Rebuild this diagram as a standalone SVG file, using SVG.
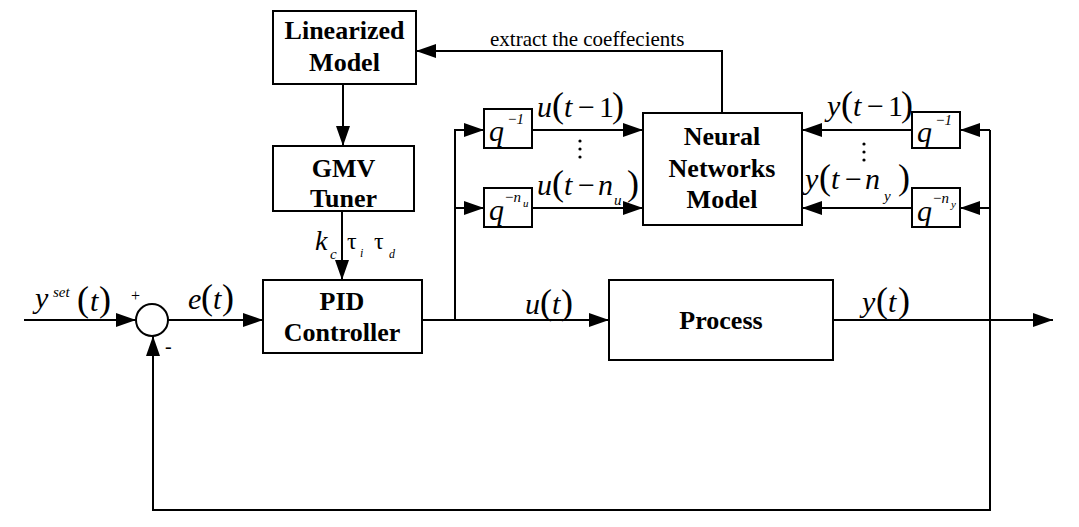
<svg xmlns="http://www.w3.org/2000/svg" width="1079" height="527" viewBox="0 0 1079 527">
<style>
text{font-family:'Liberation Serif','Times New Roman',Times,'DejaVu Serif','Noto Serif',serif}
.box{fill:#fff;stroke:#000;stroke-width:2}
.c{fill:none;stroke:#000;stroke-width:2}
.b{font-weight:bold;font-size:26px;text-anchor:middle;fill:#000}
.m{font-style:italic;font-size:30px;fill:#000}
.r{font-style:normal;font-size:30px}
.p{font-style:normal;font-size:36px}
.s{font-style:italic;font-size:15px}
.ss{font-style:italic;font-size:11px}
.n{font-size:21px;fill:#000}
</style>
<defs>
<marker id="ah" markerWidth="20" markerHeight="14" refX="20" refY="7" orient="auto" markerUnits="userSpaceOnUse">
<path d="M0,0 L20,7 L0,14 z" fill="#000"/>
</marker>
</defs>
<rect width="1079" height="527" fill="#fff"/>
<g id="connectors">
<path class="c" d="M24,320 H136" marker-end="url(#ah)"/>
<path class="c" d="M168,320 H263" marker-end="url(#ah)"/>
<path class="c" d="M422,320 H609" marker-end="url(#ah)"/>
<path class="c" d="M455,320 V130 H484" marker-end="url(#ah)"/>
<path class="c" d="M455,208 H484" marker-end="url(#ah)"/>
<path class="c" d="M532,130 H643" marker-end="url(#ah)"/>
<path class="c" d="M532,208 H643" marker-end="url(#ah)"/>
<path class="c" d="M833,320 H1053" marker-end="url(#ah)"/>
<path class="c" d="M990,130 V510 H153 V336" marker-end="url(#ah)"/>
<path class="c" d="M990,130 H960" marker-end="url(#ah)"/>
<path class="c" d="M990,208 H960" marker-end="url(#ah)"/>
<path class="c" d="M912,130 H802" marker-end="url(#ah)"/>
<path class="c" d="M912,208 H802" marker-end="url(#ah)"/>
<path class="c" d="M722,113 V51 H416" marker-end="url(#ah)"/>
<path class="c" d="M343,84 V146" marker-end="url(#ah)"/>
<path class="c" d="M342,211 V280" marker-end="url(#ah)"/>
<text class="n" x="490" y="46">extract the coeffecients</text>
</g>
<g id="sum">
<circle cx="152" cy="320" r="16" class="box"/>
<text x="131" y="301" style="font-size:16px">+</text>
<text x="165" y="353" style="font-size:20px">-</text>
</g>
<g id="linearized">
<rect class="box" x="273" y="11" width="143" height="73"/>
<text class="b" x="344.5" y="39">Linearized</text>
<text class="b" x="344.5" y="71">Model</text>
</g>
<g id="gmv">
<rect class="box" x="273" y="146" width="141" height="65"/>
<text class="b" x="343.5" y="177">GMV</text>
<text class="b" x="343.5" y="207">Tuner</text>
</g>
<g id="pid">
<rect class="box" x="263" y="280" width="159" height="73"/>
<text class="b" x="342" y="310">PID</text>
<text class="b" x="342" y="341">Controller</text>
</g>
<g id="process">
<rect class="box" x="609" y="280" width="224" height="80"/>
<text class="b" x="721" y="329">Process</text>
</g>
<g id="nn">
<rect class="box" x="643" y="113" width="159" height="112"/>
<text class="b" x="722" y="145">Neural</text>
<text class="b" x="722" y="177">Networks</text>
<text class="b" x="722" y="208">Model</text>
</g>
<g id="qu1">
<rect class="box" x="484" y="109" width="48" height="39"/>
<text class="m" x="489" y="141">q</text>
<text class="s" x="508" y="124"><tspan class="r" style="font-size:15px">−</tspan>1</text>
</g>
<g id="qunu">
<rect class="box" x="484" y="188" width="48" height="39"/>
<text class="m" x="489" y="220">q</text>
<text class="s" x="505" y="202"><tspan class="r" style="font-size:15px">−</tspan>n</text>
<text class="ss" x="523" y="207">u</text>
</g>
<g id="qy1">
<rect class="box" x="912" y="112" width="48" height="36"/>
<text class="m" x="917" y="142">q</text>
<text class="s" x="936" y="125"><tspan class="r" style="font-size:15px">−</tspan>1</text>
</g>
<g id="qyny">
<rect class="box" x="912" y="188" width="48" height="39"/>
<text class="m" x="917" y="221">q</text>
<text class="s" x="933" y="203"><tspan class="r" style="font-size:15px">−</tspan>n</text>
<text class="ss" x="951" y="208">y</text>
</g>
<g id="labels">
<text class="m" x="35" y="308">y</text>
<text class="s" x="53" y="297">set</text>
<text class="m" y="311"><tspan class="p" x="77">(</tspan><tspan x="90">t</tspan><tspan class="p" x="99">)</tspan></text>
<text class="m" y="309"><tspan x="188">e</tspan><tspan class="p" x="201">(</tspan><tspan x="213">t</tspan><tspan class="p" x="222">)</tspan></text>
<text class="m" y="314"><tspan x="525">u</tspan><tspan class="p" x="540">(</tspan><tspan x="552">t</tspan><tspan class="p" x="561">)</tspan></text>
<text class="m" y="312"><tspan x="862">y</tspan><tspan class="p" x="876">(</tspan><tspan x="888">t</tspan><tspan class="p" x="898">)</tspan></text>
<text class="m" y="117"><tspan x="537">u</tspan><tspan class="p" x="552">(</tspan><tspan x="564">t</tspan><tspan class="r" x="578">−</tspan><tspan class="r" x="599">1</tspan><tspan class="p" x="612">)</tspan></text>
<text class="m" y="195"><tspan x="537">u</tspan><tspan class="p" x="552">(</tspan><tspan x="564">t</tspan><tspan class="r" x="578">−</tspan><tspan x="598">n</tspan><tspan class="p" x="627">)</tspan></text>
<text class="s" x="614" y="205">u</text>
<text class="m" y="116"><tspan x="827">y</tspan><tspan class="p" x="841">(</tspan><tspan x="853">t</tspan><tspan class="r" x="867">−</tspan><tspan class="r" x="888">1</tspan><tspan class="p" x="901">)</tspan></text>
<text class="m" y="189"><tspan x="805">y</tspan><tspan class="p" x="819">(</tspan><tspan x="831">t</tspan><tspan class="r" x="845">−</tspan><tspan x="865">n</tspan><tspan class="p" x="898">)</tspan></text>
<text class="s" x="884" y="201">y</text>
<text class="m" x="315" y="250" style="font-size:28px">k</text>
<text class="s" x="330" y="259">c</text>
<text class="r" x="347" y="249" style="font-size:24px">τ</text>
<text class="s" x="360" y="257" style="font-size:12px">i</text>
<text class="r" x="374" y="249" style="font-size:24px">τ</text>
<text class="s" x="389" y="258" style="font-size:12px">d</text>
<circle cx="580" cy="141" r="1.6"/>
<circle cx="580" cy="149" r="1.6"/>
<circle cx="580" cy="157" r="1.6"/>
<circle cx="864" cy="144" r="1.6"/>
<circle cx="864" cy="152" r="1.6"/>
<circle cx="864" cy="160" r="1.6"/>
</g>
</svg>
